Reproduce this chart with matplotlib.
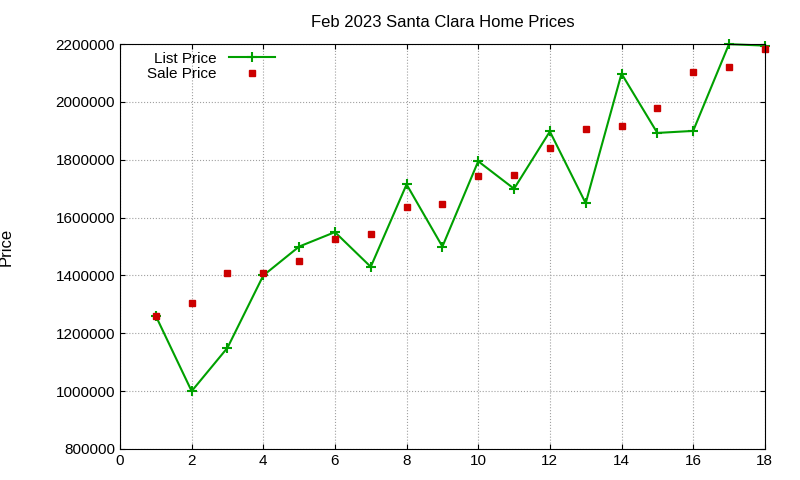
import matplotlib
matplotlib.use("Agg")
import matplotlib.pyplot as plt

months = list(range(1, 19))
list_price = [1260000, 1000000, 1150000, 1400000, 1500000, 1550000, 1430000, 1715000, 1500000,
              1795000, 1700000, 1898000, 1650000, 2098000, 1893000, 1900000, 2200000, 2195000]
sale_price = [1260000, 1305000, 1408000, 1410000, 1450000, 1526000, 1543000, 1637000, 1647000,
              1744000, 1747000, 1840000, 1906000, 1917000, 1979000, 2103000, 2120000, 2183000]

plt.rcParams['font.family'] = ['Liberation Sans', 'DejaVu Sans']
fig = plt.figure(figsize=(8, 4.8), dpi=100)
ax = fig.add_axes([0.15, 0.0646, 0.806, 0.8434])

ax.plot(months, list_price, color='#00a000', marker='+', markersize=7, mew=1.5, lw=1.5,
        label='List Price', clip_on=False)
ax.plot(months, sale_price, ls='none', color='#cc0000', marker='s', markersize=5,
        label='Sale Price', clip_on=False)

ax.set_xlim(0, 18)
ax.set_ylim(800000, 2200000)
ax.set_xticks(range(0, 19, 2))
ax.set_yticks(range(800000, 2200001, 200000))
ax.ticklabel_format(style='plain', axis='y')
ax.tick_params(direction='in', labelsize=11, top=True, right=True)
ax.grid(True, color='#a0a0a0', ls=':', lw=0.8)
ax.set_ylabel('Price', fontsize=12)
ax.yaxis.set_label_coords(-0.165, 0.5)
ax.set_title('Feb 2023 Santa Clara Home Prices', fontsize=12, pad=12)
ax.legend(loc='upper left', frameon=False, fontsize=11, markerfirst=False,
          handlelength=3, borderaxespad=0.1, labelspacing=0.1, bbox_to_anchor=(0.03, 1.0))

fig.savefig('out.png', dpi=100)
